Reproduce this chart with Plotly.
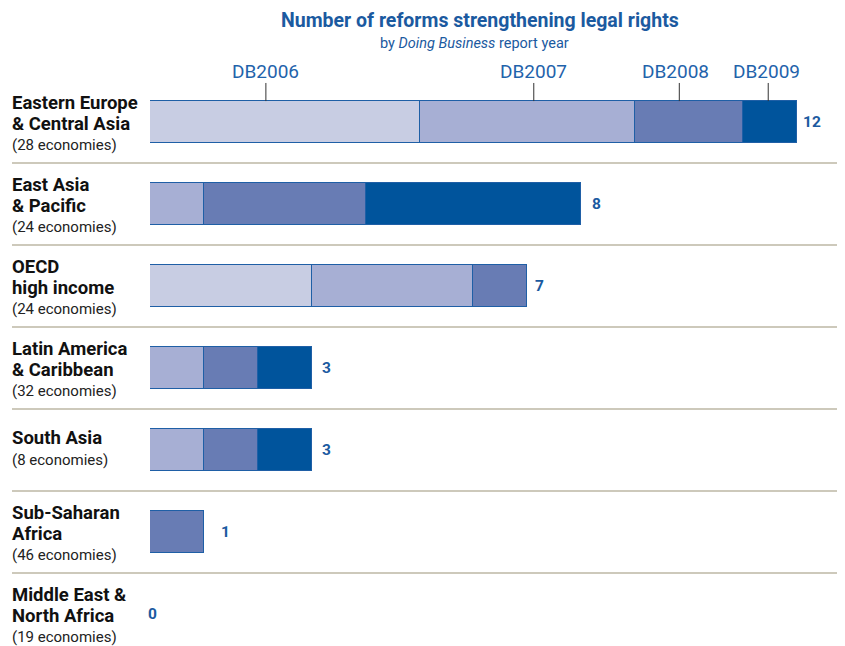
import plotly.graph_objects as go

# ---- data ----
regions = ["Eastern Europe & Central Asia", "East Asia & Pacific", "OECD high income",
           "Latin America & Caribbean", "South Asia", "Sub-Saharan Africa",
           "Middle East & North Africa"]
region_lines = [["Eastern Europe", "& Central Asia"], ["East Asia", "& Pacific"],
                ["OECD", "high income"], ["Latin America", "& Caribbean"],
                ["South Asia"], ["Sub-Saharan", "Africa"], ["Middle East &", "North Africa"]]
economies = ["(28 economies)", "(24 economies)", "(24 economies)", "(32 economies)",
             "(8 economies)", "(46 economies)", "(19 economies)"]
series_names = ["DB2006", "DB2007", "DB2008", "DB2009"]
db2006 = [5, 0, 3, 0, 0, 0, 0]
db2007 = [4, 1, 3, 1, 1, 0, 0]
db2008 = [2, 3, 1, 1, 1, 1, 0]
db2009 = [1, 4, 0, 1, 1, 0, 0]
series_values = [db2006, db2007, db2008, db2009]
totals = [sum(v) for v in zip(*series_values)]

# ---- style / geometry ----
colors = ["#C8CDE3", "#A7AFD4", "#687CB4", "#00549C"]
edge = "#1F5FA6"
blue_text = "#1B5AA0"
FONT = "Roboto, Arial, sans-serif"
OFF = 8                      # page body margin
W, H = 845 - OFF, 646 - OFF
ML, MT = 150 - OFF, 81 - OFF
PW, PH = W - ML, H - MT
ROW_PX = 82
UNIT_PX = 53.9
xmax = PW / UNIT_PX
ymax = -0.5 + PH / ROW_PX

value_label_dx = [4, 9, 6, 8, 8, 15, -4]      # pixel nudges of the total labels
series_label_pos = [2.15, 7.12, 9.82, 11.47]  # where the series callouts point
series_label_dx = [0, 0, -4, -2]

rows = list(range(len(regions)))

fig = go.Figure()
for name, vals, col in zip(series_names, series_values, colors):
    fig.add_trace(go.Bar(
        y=rows, x=[v if v else None for v in vals], orientation="h", name=name,
        marker=dict(color=col, line=dict(color=edge, width=1.3)),
        width=0.51, hoverinfo="x+name", showlegend=False))

ann = []
shapes = []
xl = (10 - 150) / PW
for i, (lines, eco) in enumerate(zip(region_lines, economies)):
    if len(lines) == 2:
        shifts = [19, -2]
        eshift = -23
    else:
        shifts = [12]
        eshift = -10
    for ln, s in zip(lines, shifts):
        ann.append(dict(x=xl, xref="paper", y=i, yref="y", yshift=s, xanchor="left",
                        yanchor="middle", text="<b>" + ln + "</b>", showarrow=False,
                        font=dict(family=FONT, size=18.5, color="#111111")))
    ann.append(dict(x=xl, xref="paper", y=i, yref="y", yshift=eshift, xanchor="left",
                    yanchor="middle", text=eco, showarrow=False,
                    font=dict(family=FONT, size=15, color="#222222")))
    ann.append(dict(x=totals[i], xref="x", y=i, yref="y", xshift=value_label_dx[i],
                    xanchor="left", yanchor="middle", text="<b>%d</b>" % totals[i],
                    showarrow=False, font=dict(family=FONT, size=15.5, color=blue_text)))
    if i < len(regions) - 1:
        shapes.append(dict(type="line", xref="paper", yref="y", x0=(12 - 150) / PW, x1=1,
                           y0=i + 0.5, y1=i + 0.5,
                           line=dict(color="#CDC9BB", width=2)))

# series labels above the top bar
for name, px, dx in zip(series_names, series_label_pos, series_label_dx):
    ann.append(dict(x=px, xref="x", y=1, yref="paper", yshift=-4, xshift=dx,
                    xanchor="center", yanchor="bottom", text=name, showarrow=False,
                    font=dict(family=FONT, size=19, color="#1F63AB")))
    shapes.append(dict(type="line", xref="x", yref="y", x0=px, x1=px,
                       y0=-0.476, y1=-0.255, line=dict(color="#333333", width=1)))

ann.append(dict(x=(480 - 150) / PW, xref="paper", y=1 + (81 - 20) / PH, yref="paper",
                xanchor="center", yanchor="middle", showarrow=False,
                text="<b>Number of reforms strengthening legal rights</b>",
                font=dict(family=FONT, size=19.5, color=blue_text)))
ann.append(dict(x=(474 - 150) / PW, xref="paper", y=1 + (81 - 44) / PH, yref="paper",
                xanchor="center", yanchor="middle", showarrow=False,
                text="by <i>Doing Business</i> report year",
                font=dict(family=FONT, size=14.5, color=blue_text)))

fig.update_layout(
    width=W, height=H, barmode="stack",
    margin=dict(l=ML, r=0, t=MT, b=0, pad=0),
    paper_bgcolor="white", plot_bgcolor="white",
    xaxis=dict(range=[0, xmax], visible=False, fixedrange=True),
    yaxis=dict(range=[ymax, -0.5], visible=False, fixedrange=True),
    annotations=ann, shapes=shapes, bargap=0,
)
fig.write_html("out.html")
